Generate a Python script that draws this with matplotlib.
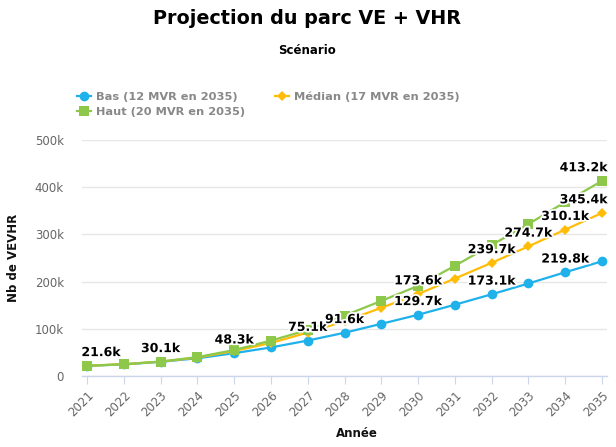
import matplotlib
matplotlib.use("Agg")
import matplotlib.pyplot as plt
import matplotlib.patheffects as pe
from matplotlib.ticker import FuncFormatter, FixedLocator
from matplotlib.lines import Line2D

years = [str(y) for y in range(2021, 2036)]
bas = [21.6, 24.5, 30.1, 37.5, 48.3, 60.5, 75.1, 91.6, 110.5, 129.7, 151.0, 173.1, 196.0, 219.8, 243.0]
median = [21.6, 25.0, 30.5, 39.0, 53.0, 70.0, 92.0, 116.0, 144.5, 173.6, 206.5, 239.7, 274.7, 310.1, 345.4]
haut = [21.6, 25.0, 30.5, 40.0, 55.0, 75.0, 97.5, 128.0, 159.0, 191.0, 233.5, 277.5, 322.0, 368.5, 413.2]
series_names = ["Bas (12 MVR en 2035)", "Médian (17 MVR en 2035)", "Haut (20 MVR en 2035)"]
bas_labels = [0, 2, 4, 6, 7, 9, 11, 13]
median_labels = [9, 11, 12, 13, 14]
haut_labels = [14]

colors = ["#1eb1ea", "#ffbd0a", "#8dc84b"]
markers = ["o", "D", "s"]
msizes = [7, 5, 7]

plt.rcParams['font.family'] = ['DejaVu Sans']
fig = plt.figure(figsize=(6.16, 4.47), dpi=100)
ax = fig.add_axes([82/616, 71/447, 525/616, 236/447])

x = list(range(len(years)))
data = [bas, median, haut]
labels_idx = [bas_labels, median_labels, haut_labels]
for vals, c, m, ms, name in zip(data, colors, markers, msizes, series_names):
    ax.plot(x, [v * 1000 for v in vals], color=c, lw=1.6, marker=m, markersize=ms,
            markeredgewidth=0, label=name, zorder=3, clip_on=False)

stroke = [pe.withStroke(linewidth=2.5, foreground="white")]
for vals, idxs in zip(data, labels_idx):
    for i in idxs:
        v = vals[i]
        txt = f"{v:.1f}k"
        if i == 0:
            ha, dx = "left", -4
        elif i == len(x) - 1:
            ha, dx = "right", 4
        else:
            ha, dx = "center", 0
        ax.annotate(txt, (x[i], v * 1000), xytext=(dx, 9.5), textcoords="offset points",
                    ha=ha, va="center", fontsize=9, fontweight="bold", color="black",
                    path_effects=stroke, zorder=10, annotation_clip=False)

ax.set_xlim(-0.136, 14.136)
ax.set_ylim(0, 500000)
ax.yaxis.set_major_locator(FixedLocator([0, 100000, 200000, 300000, 400000, 500000]))
ax.yaxis.set_major_formatter(FuncFormatter(lambda v, p: "0" if v == 0 else f"{int(v/1000)}k"))
ax.set_xticks(x)
ax.set_xticklabels(years, rotation=45, ha="right", rotation_mode="anchor")
ax.tick_params(axis="x", length=6, color="#ccd6eb", labelsize=8.5, labelcolor="#666666", pad=3)
ax.tick_params(axis="y", length=0, labelsize=8.5, labelcolor="#666666", pad=13)
ax.grid(axis="y", color="#e6e6e6", lw=1)
ax.set_axisbelow(True)
for s in ["top", "right", "left"]:
    ax.spines[s].set_visible(False)
ax.spines["bottom"].set_color("#ccd6eb")
ax.spines["bottom"].set_linewidth(1)

ax.set_ylabel("Nb de VEVHR", fontsize=8.5, fontweight="bold", color="#111111")
ax.yaxis.set_label_coords(-62/525, 0.5)
ax.set_xlabel("Année", fontsize=8.5, fontweight="bold", color="#111111")
ax.xaxis.set_label_coords((357-82)/525, -(427-376)/236)

fig.text(307/616, 1 - 18/447, "Projection du parc VE + VHR", ha="center", va="center",
         fontsize=13.8, fontweight="bold", color="black")
fig.text(307/616, 1 - 50/447, "Scénario", ha="center", va="center",
         fontsize=8.5, fontweight="bold", color="black")

handles = [Line2D([0], [0], color=c, lw=1.6, marker=m, markersize=ms, markeredgewidth=0)
           for c, m, ms in zip(colors, markers, msizes)]
# column-major fill: column 1 = Bas, Haut ; column 2 = Médian
leg = fig.legend([handles[0], handles[2], handles[1]],
                 [series_names[0], series_names[2], series_names[1]],
                 ncol=2, loc="upper left", bbox_to_anchor=(72/616, 1 - 87/447), frameon=False,
                 prop={"size": 8.2, "weight": "bold"}, handlelength=1.3, handletextpad=0.4,
                 columnspacing=2.6, labelspacing=0.45, borderaxespad=0)
for t in leg.get_texts():
    t.set_color("#888888")

fig.savefig("out.png", dpi=100)
